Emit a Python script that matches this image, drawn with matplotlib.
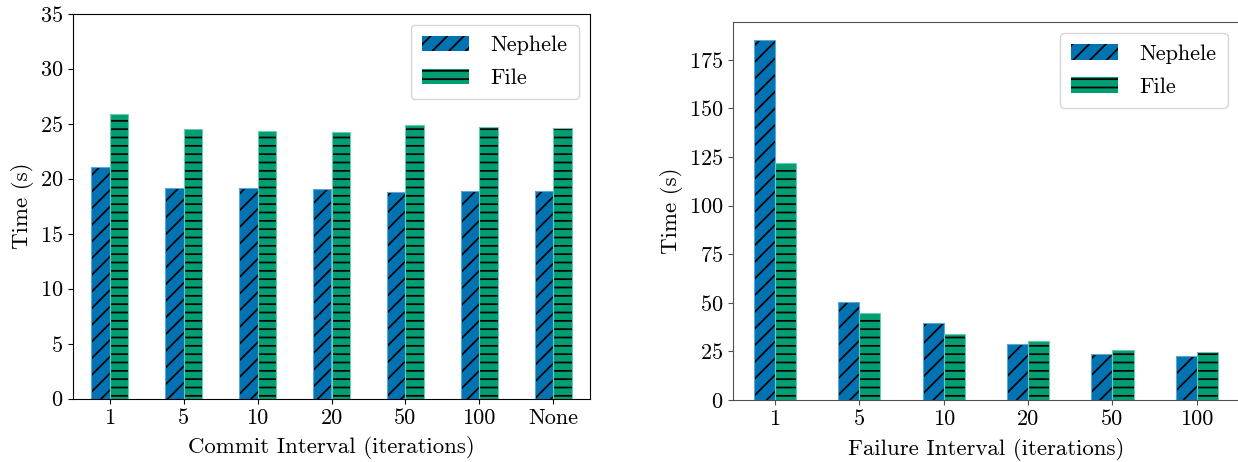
import matplotlib
matplotlib.use("Agg")
import matplotlib.pyplot as plt
import numpy as np

# ---- data ----
commit_labels = ["1", "5", "10", "20", "50", "100", "None"]
commit_nephele = [21.1, 19.2, 19.18, 19.02, 18.75, 18.87, 18.84]
commit_file = [25.9, 24.54, 24.3, 24.24, 24.85, 24.67, 24.63]

failure_labels = ["1", "5", "10", "20", "50", "100"]
failure_nephele = [185.2, 50.3, 39.7, 29.0, 23.9, 22.7]
failure_file = [122.1, 45.0, 34.2, 30.6, 25.9, 24.9]

series_names = ["Nephele", "File"]

# ---- style ----
plt.rcParams["font.family"] = "serif"
plt.rcParams["font.serif"] = ["cmr10", "DejaVu Serif"]
plt.rcParams["mathtext.fontset"] = "cm"
plt.rcParams["axes.formatter.use_mathtext"] = True
plt.rcParams["hatch.linewidth"] = 1.25
plt.rcParams["hatch.color"] = "black"

BLUE = "#0173B2"
GREEN = "#029E73"
BLUE_EDGE = "#5FA6D6"
GREEN_EDGE = "#6CCBAE"

fig = plt.figure(figsize=(12.38, 4.62), dpi=100)
W, H = 1238.0, 462.0


def add_ax(x0, x1, ytop, ybot):
    return fig.add_axes([x0 / W, 1 - ybot / H, (x1 - x0) / W, (ybot - ytop) / H])


ax1 = add_ax(73, 590, 13.7, 398.7)
ax2 = add_ax(732.7, 1239, 22, 400)

width = 0.25


def draw(ax, labels, neph, fil, spine_color):
    x = np.arange(len(labels))
    b1 = ax.bar(x - width / 2, neph, width, color=BLUE, hatch="//",
                linewidth=0, label=series_names[0])
    b2 = ax.bar(x + width / 2, fil, width, color=GREEN, hatch="--",
                linewidth=0, label=series_names[1])
    ax.bar(x - width / 2, neph, width, fill=False, edgecolor=BLUE_EDGE, linewidth=0.8)
    ax.bar(x + width / 2, fil, width, fill=False, edgecolor=GREEN_EDGE, linewidth=0.8)
    ax.set_xticks(x)
    ax.set_xticklabels(labels)
    ax.set_xlim(-0.5, len(labels) - 0.5)
    ax.tick_params(axis="both", labelsize=16, color=spine_color)
    for s in ax.spines.values():
        s.set_color(spine_color)
    ax.set_ylabel("Time (s)", fontsize=16.5)
    ax.legend(handles=[b1, b2], loc="upper right", fontsize=16,
              handlelength=2.1, handletextpad=1.0, borderaxespad=0.5,
              labelspacing=0.6, borderpad=0.5)
    return ax


draw(ax1, commit_labels, commit_nephele, commit_file, "black")
ax1.set_ylim(0, 35)
ax1.set_xlabel("Commit Interval (iterations)", fontsize=16.5, labelpad=6)

draw(ax2, failure_labels, failure_nephele, failure_file, "#505050")
ax2.set_yticks([0, 25, 50, 75, 100, 125, 150, 175])
ax2.set_xlabel("Failure Interval (iterations)", fontsize=16.5, labelpad=6)

fig.savefig("out.png", dpi=100)
